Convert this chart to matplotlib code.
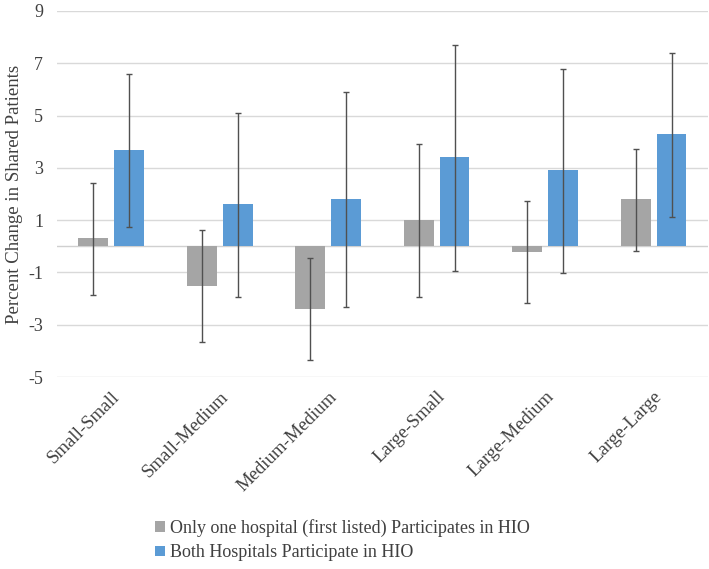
import matplotlib.pyplot as plt
import numpy as np

categories = ["Small-Small", "Small-Medium", "Medium-Medium", "Large-Small", "Large-Medium", "Large-Large"]

# only one hospital (first listed) participates
one_vals = [0.3, -1.5, -2.4, 1.0, -0.2, 1.8]
one_low = [-1.87, -3.66, -4.36, -1.95, -2.18, -0.18]
one_high = [2.43, 0.64, -0.45, 3.92, 1.73, 3.74]

# both hospitals participate
both_vals = [3.7, 1.6, 1.8, 3.4, 2.9, 4.3]
both_low = [0.74, -1.93, -2.32, -0.93, -1.04, 1.13]
both_high = [6.6, 5.1, 5.89, 7.7, 6.8, 7.4]

yticks = [-5, -3, -1, 1, 3, 5, 7, 9]

plt.rcParams['font.family'] = ['Liberation Serif', 'DejaVu Serif']
plt.rcParams['axes.unicode_minus'] = False

fig = plt.figure(figsize=(7.09, 5.69), dpi=100)
ax = fig.add_axes([0.0804, 0.3374, 0.918, 0.6433])

x = np.arange(len(categories))
w = 0.275
gap = 0.055
xo = x - (w + gap) / 2
xb = x + (w + gap) / 2

one_err = [np.array(one_vals) - np.array(one_low), np.array(one_high) - np.array(one_vals)]
both_err = [np.array(both_vals) - np.array(both_low), np.array(both_high) - np.array(both_vals)]

ax.bar(xo, one_vals, w, color='#a5a5a5', zorder=2,
       label='Only one hospital (first listed) Participates in HIO')
ax.bar(xb, both_vals, w, color='#5b9bd5', zorder=2,
       label='Both Hospitals Participate in HIO')
ax.errorbar(xo, one_vals, yerr=one_err, fmt='none', ecolor='#505050', elinewidth=1, capsize=2.5, capthick=1, zorder=3)
ax.errorbar(xb, both_vals, yerr=both_err, fmt='none', ecolor='#505050', elinewidth=1, capsize=2.5, capthick=1, zorder=3)

ax.set_xlim(-0.5, len(categories) - 0.5)
ax.set_ylim(-5, 9)
ax.set_yticks(yticks)
for t in yticks:
    ax.axhline(t, color='#d9d9d9', linewidth=1, zorder=0)
ax.axhline(0, color='#d0d0d0', linewidth=1, zorder=1)

ax.set_xticks(x)
ax.set_xticklabels(categories, rotation=45, ha='right', rotation_mode='anchor', fontsize=13.5, color='#404040')
ax.tick_params(axis='both', length=0, labelcolor='#404040')
ax.tick_params(axis='y', labelsize=13, pad=10)
ax.tick_params(axis='x', pad=8)
for s in ax.spines.values():
    s.set_visible(False)

ax.set_ylabel('Percent Change in Shared Patients', fontsize=13.5, color='#404040')
ax.yaxis.set_label_coords(-0.053, 0.5)

fig.legend(loc='upper left', bbox_to_anchor=(0.219, 0.0875), frameon=False, fontsize=13,
           handlelength=0.55, handleheight=0.55, handletextpad=0.25, labelspacing=0.4,
           labelcolor='#404040', borderpad=0, borderaxespad=0)

fig.savefig('out.png', dpi=100)
